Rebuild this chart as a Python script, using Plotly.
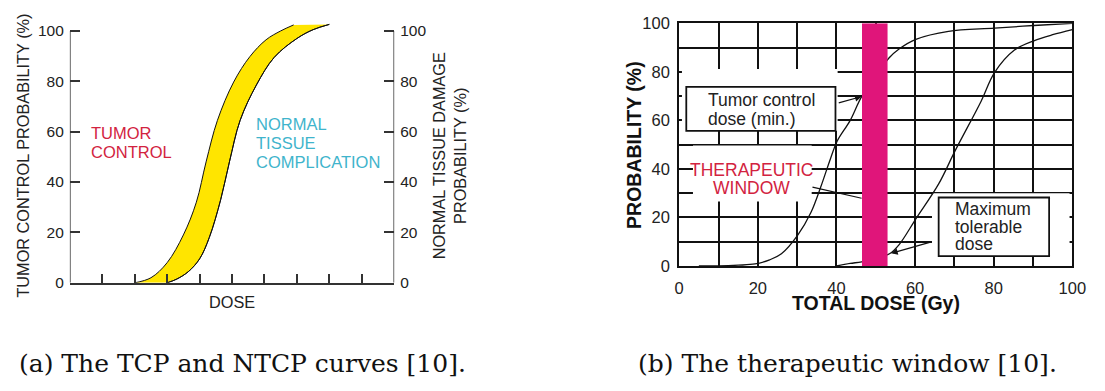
import plotly.graph_objects as go

W, H = 1105, 391

# ---------- data: panel (a) ----------
tcp_a_x = [2.0, 2.5, 3.0, 3.5, 3.9, 4.2, 4.55, 5.05, 5.55, 6.05, 6.5, 6.9]
tcp_a_y = [0, 2.0, 8, 19, 32, 48, 64.5, 79.7, 89.8, 96.5, 100, 102.4]
ntcp_a_x = [3.0, 3.3, 3.66, 4.0, 4.3, 4.65, 4.92, 5.25, 5.75, 6.3, 7.0, 7.5, 8.0]
ntcp_a_y = [0, 1.5, 4.5, 9.5, 18, 33, 48, 64.5, 78.5, 89.5, 97, 100.5, 102.6]
dose_ticks_a = [1, 2, 3, 4, 5, 6, 7, 8, 9]
prob_ticks = [0, 20, 40, 60, 80, 100]

# ---------- data: panel (b) ----------
tcp_b_x = [5, 10, 15, 19.3, 23, 26, 30.2, 33.5, 36, 38.5, 40.2, 43.5, 46.4, 50, 53.3, 56, 60.2, 68.5, 80.2, 90.2, 100]
tcp_b_y = [0, 0, 0.3, 0.8, 2.5, 5, 12.8, 22, 32.5, 44.3, 51.5, 60, 69.8, 78, 85.6, 89.5, 93.4, 96.7, 98, 99.1, 100]
ntcp_b_x = [40, 43.5, 46.4, 50, 53.5, 56, 60.2, 66, 70.2, 76.8, 80.2, 85.2, 90.2, 95, 100]
ntcp_b_y = [0, 1.0, 1.7, 3, 5, 8.9, 19.4, 33.8, 47.5, 67.9, 79.7, 88.9, 92.8, 95.3, 97.4]
window_b = [46.5, 53.0]
dose_ticks_b = [0, 20, 40, 60, 80, 100]

BLACK = "#111111"
YELLOW = "#FFE500"
MAGENTA = "#E0157A"
RED = "#D2233F"
CYAN = "#3FB4CC"
SANS = "Liberation Sans, Arial, sans-serif"

def px(x):
    return x / W

def py(y):
    return 1 - y / H

fig = go.Figure()

# panel (a) curves: NTCP (fill base), TCP filled to it, NTCP drawn on right axis
fig.add_trace(go.Scatter(x=ntcp_a_x, y=ntcp_a_y, mode="lines", line=dict(color=BLACK, width=1, shape="spline"),
                         xaxis="x", yaxis="y", hoverinfo="skip", showlegend=False))
fig.add_trace(go.Scatter(x=tcp_a_x, y=tcp_a_y, mode="lines", line=dict(color=BLACK, width=1, shape="spline"),
                         fill="tonexty", fillcolor=YELLOW, xaxis="x", yaxis="y", hoverinfo="skip", showlegend=False))
fig.add_trace(go.Scatter(x=ntcp_a_x, y=ntcp_a_y, mode="lines", line=dict(color=BLACK, width=1, shape="spline"),
                         xaxis="x", yaxis="y2", hoverinfo="skip", showlegend=False))

# panel (b) curves
fig.add_trace(go.Scatter(x=tcp_b_x, y=tcp_b_y, mode="lines", line=dict(color=BLACK, width=1.3, shape="spline"),
                         xaxis="x3", yaxis="y3", hoverinfo="skip", showlegend=False))
fig.add_trace(go.Scatter(x=ntcp_b_x, y=ntcp_b_y, mode="lines", line=dict(color=BLACK, width=1.3, shape="spline"),
                         xaxis="x3", yaxis="y3", hoverinfo="skip", showlegend=False))

shapes = []
# panel (a) axis lines
shapes.append(dict(type="line", xref="x", yref="y", x0=0, x1=0, y0=0, y1=100, line=dict(color="#333", width=1.5)))
shapes.append(dict(type="line", xref="x", yref="y", x0=10, x1=10, y0=0, y1=100, line=dict(color="#333", width=1.5)))

# panel (b) white areas hiding grid
for (x0, x1, y0, y1) in [(0.7, 40.3, 55.7, 81.2), (3.5, 33.7, 26.5, 49.6), (64.3, 99.3, 4.05, 29.9)]:
    shapes.append(dict(type="rect", xref="x3", yref="y3", x0=x0, x1=x1, y0=y0, y1=y1,
                       fillcolor="white", line=dict(width=0), layer="between"))
# boxes
for (x0, x1, y0, y1) in [(1.8, 39.75, 55.7, 73.8), (66, 94.1, 4.05, 28.2)]:
    shapes.append(dict(type="rect", xref="x3", yref="y3", x0=x0, x1=x1, y0=y0, y1=y1,
                       fillcolor="white", line=dict(color=BLACK, width=1.8), layer="between"))
# therapeutic window bar
shapes.append(dict(type="rect", xref="x3", yref="y3", x0=window_b[0], x1=window_b[1], y0=0, y1=100,
                   fillcolor=MAGENTA, line=dict(width=0), layer="above"))
# pointer line for therapeutic window
shapes.append(dict(type="line", xref="x3", yref="y3", x0=33.9, y0=32.5, x1=46.4, y1=27.9,
                   line=dict(color=BLACK, width=1.2), layer="above"))

ann = []
def text(t, x, y, size=16.5, color="#222", xanchor="center", yanchor="middle", angle=0, family=SANS,
         xref="paper", yref="paper", bold=False):
    ann.append(dict(text=("<b>%s</b>" % t) if bold else t, x=x, y=y, xref=xref, yref=yref, showarrow=False,
                    xanchor=xanchor, yanchor=yanchor, textangle=angle,
                    font=dict(family=family, size=size, color=color)))

# panel (a) texts
text("TUMOR CONTROL PROBABILITY (%)", px(18), py(154), size=16.3, angle=-90)
text("NORMAL TISSUE DAMAGE", px(442), py(154), size=16.3, angle=-90)
text("PROBABILITY (%)", px(463), py(154), size=16.3, angle=-90)
text("DOSE", px(231), py(307), size=16.3)
text("TUMOR", 0.6, 59.5, size=16.5, color=RED, xanchor="left", xref="x", yref="y")
text("CONTROL", 0.6, 52.0, size=16.5, color=RED, xanchor="left", xref="x", yref="y")
text("NORMAL", 5.68, 63.2, size=16.5, color=CYAN, xanchor="left", xref="x", yref="y")
text("TISSUE", 5.68, 55.6, size=16.5, color=CYAN, xanchor="left", xref="x", yref="y")
text("COMPLICATION", 5.68, 48.0, size=16.5, color=CYAN, xanchor="left", xref="x", yref="y")

# panel (b) texts
text("PROBABILITY (%)", px(640), py(142.5), size=19.5, angle=-90, bold=True, color=BLACK)
text("TOTAL DOSE (Gy)", px(886), py(308), size=19.5, bold=True, color=BLACK)
text("Tumor control", 6.8, 68.5, size=17.5, xanchor="left", xref="x3", yref="y3")
text("dose (min.)", 6.8, 60.7, size=17.5, xanchor="left", xref="x3", yref="y3")
text("Maximum", 69.75, 23.6, size=17.5, xanchor="left", xref="x3", yref="y3")
text("tolerable", 69.75, 16.0, size=17.5, xanchor="left", xref="x3", yref="y3")
text("dose", 69.75, 8.9, size=17.5, xanchor="left", xref="x3", yref="y3")
text("THERAPEUTIC", 18.4, 39.7, size=17.5, color=RED, xref="x3", yref="y3")
text("WINDOW", 18.5, 32.2, size=17.5, color=RED, xref="x3", yref="y3")

# arrows
for (tx, ty, hx, hy) in [(40.2, 67.0, 46.4, 69.8), (64.3, 9.95, 53.9, 5.2)]:
    ann.append(dict(x=hx, y=hy, ax=tx, ay=ty, xref="x3", yref="y3", axref="x3", ayref="y3", text="",
                    showarrow=True, arrowhead=2, arrowsize=1.1, arrowwidth=1.2, arrowcolor=BLACK))

# captions
text("(a) The TCP and NTCP curves [10].", px(242), py(372), size=25, family="DejaVu Serif, serif", color="#111")
text("(b) The therapeutic window [10].", px(857), py(372), size=25, family="DejaVu Serif, serif", color="#111")

tickfont_a = dict(family=SANS, size=15.5, color="#222")
tickfont_b = dict(family=SANS, size=16.5, color="#222")

ya_dom = [py(287), py(287 - 104 * 2.64)]

fig.update_layout(
    width=W, height=H, margin=dict(l=0, r=0, t=0, b=0),
    paper_bgcolor="white", plot_bgcolor="white", showlegend=False,
    xaxis=dict(domain=[px(66), px(396)], range=[0, 10], anchor="y", showgrid=False, zeroline=False,
               showline=True, linecolor="#333", linewidth=1.5, tickmode="array", tickvals=dose_ticks_a,
               ticks="inside", ticklen=9, tickwidth=1.5, tickcolor="#333", showticklabels=False, fixedrange=True),
    yaxis=dict(domain=ya_dom, range=[0, 104], anchor="x", showgrid=False, zeroline=False, showline=False,
               tickmode="array", tickvals=prob_ticks, ticks="inside", ticklen=10, tickwidth=1.5, tickcolor="#333",
               tickfont=tickfont_a, ticklabelstandoff=5, fixedrange=True),
    yaxis2=dict(domain=ya_dom, range=[0, 104], anchor="x", overlaying="y", side="right", showgrid=False,
                zeroline=False, showline=False, tickmode="array", tickvals=prob_ticks, ticks="inside",
                ticklen=10, tickwidth=1.5, tickcolor="#333", tickfont=tickfont_a, ticklabelstandoff=5,
                fixedrange=True),
    xaxis3=dict(domain=[px(686), px(1086)], range=[0, 100], anchor="y3", zeroline=False,
                showline=True, mirror=True, linecolor=BLACK, linewidth=2,
                tickmode="array", tickvals=dose_ticks_b, showgrid=True, gridcolor=BLACK, gridwidth=2,
                minor=dict(dtick=10, showgrid=True, gridcolor=BLACK, gridwidth=2),
                ticks="", tickfont=tickfont_b, ticklabelstandoff=6, fixedrange=True),
    yaxis3=dict(domain=[py(269.3), py(15)], range=[0, 100], anchor="x3", zeroline=False,
                showline=True, mirror=True, linecolor=BLACK, linewidth=2,
                tickmode="array", tickvals=prob_ticks, showgrid=True, gridcolor=BLACK, gridwidth=2,
                minor=dict(dtick=10, showgrid=True, gridcolor=BLACK, gridwidth=2),
                ticks="", tickfont=tickfont_b, ticklabelstandoff=4, fixedrange=True),
    shapes=shapes, annotations=ann,
)

fig.write_html("out.html", config={"displayModeBar": False},
               post_script="document.body.style.margin='0';document.body.style.overflow='hidden';")
